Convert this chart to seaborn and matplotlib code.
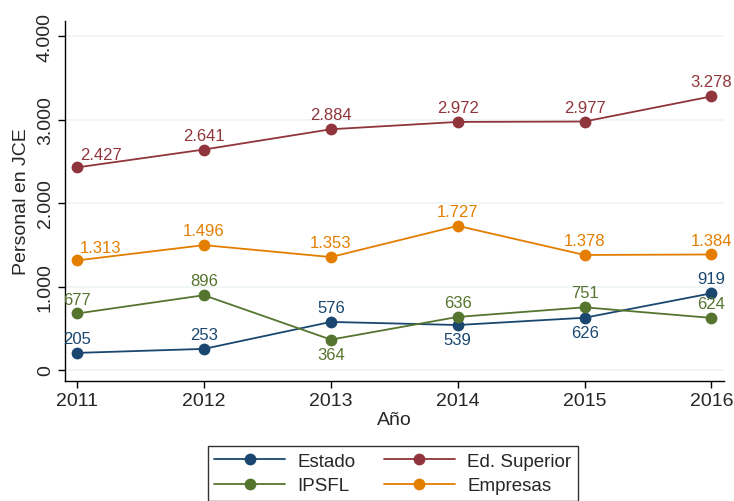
import pandas as pd
import matplotlib.pyplot as plt
import seaborn as sns
from matplotlib.lines import Line2D

years = [2011, 2012, 2013, 2014, 2015, 2016]
estado = [205, 253, 576, 539, 626, 919]
ed_superior = [2427, 2641, 2884, 2972, 2977, 3278]
ipsfl = [677, 896, 364, 636, 751, 624]
empresas = [1313, 1496, 1353, 1727, 1378, 1384]

series_names = ['Estado', 'Ed. Superior', 'IPSFL', 'Empresas']
colors = ['#1a476f', '#90353b', '#55752f', '#e37e00']

# posicion de etiquetas: 'a' arriba, 'b' abajo, 'ar' arriba-derecha
label_pos = {
    'Estado': ['a', 'a', 'a', 'b', 'b', 'a'],
    'Ed. Superior': ['ar', 'a', 'a', 'a', 'a', 'a'],
    'IPSFL': ['a', 'a', 'b', 'a', 'a', 'a'],
    'Empresas': ['ar', 'a', 'a', 'a', 'a', 'a'],
}

def fmt(v):
    return f"{v:,}".replace(',', '.')

rows = []
for name, vals in zip(series_names, [estado, ed_superior, ipsfl, empresas]):
    for y, v in zip(years, vals):
        rows.append({'Año': y, 'valor': v, 'serie': name})
df = pd.DataFrame(rows)

sns.set_style('white')
plt.rcParams['font.family'] = ['Liberation Sans', 'DejaVu Sans']

fig = plt.figure(figsize=(7.34, 5.02), dpi=100)
ax = fig.add_axes([0.0886, 0.239, 0.898, 0.717])

for y in [0, 1000, 2000, 3000, 4000]:
    ax.axhline(y, color='#eef4f6', lw=1.2, zorder=0)

palette = dict(zip(series_names, colors))
sns.lineplot(data=df, x='Año', y='valor', hue='serie', hue_order=series_names,
             palette=palette, marker='o', markersize=8.5, markeredgewidth=0,
             lw=1.3, legend=False, ax=ax)

for name in series_names:
    sub = df[df['serie'] == name]
    for (yr, v), pos in zip(sub[['Año', 'valor']].values, label_pos[name]):
        if pos == 'a':
            off, ha, va = (0, 5), 'center', 'bottom'
        elif pos == 'b':
            off, ha, va = (0, -5), 'center', 'top'
        else:
            off, ha, va = (2, 4), 'left', 'bottom'
        ax.annotate(fmt(int(v)), (yr, v), xytext=off, textcoords='offset points',
                    ha=ha, va=va, color=palette[name], fontsize=12)

ax.set_xlim(2010.905, 2016.10)
ax.set_ylim(-132, 4180)
ax.set_xticks(years)
ax.set_yticks([0, 1000, 2000, 3000, 4000])
ax.set_yticklabels([fmt(t) for t in [0, 1000, 2000, 3000, 4000]], rotation=90, va='center')
ax.tick_params(axis='both', length=5, width=1, color='black', labelsize=14, direction='out',
               left=True, bottom=True, pad=3)
ax.set_xlabel('Año', fontsize=14, labelpad=1)
ax.set_ylabel('Personal en JCE', fontsize=14, labelpad=5)

for s in ['top', 'right']:
    ax.spines[s].set_visible(False)
for s in ['left', 'bottom']:
    ax.spines[s].set_color('black')
    ax.spines[s].set_linewidth(1)

# matplotlib llena por columnas; reordenar para que las filas queden como en el original
order = [0, 2, 1, 3]
handles = [Line2D([0], [0], color=colors[i], marker='o', markersize=8.5, markeredgewidth=0, lw=1.3)
           for i in order]
leg = fig.legend(handles, [series_names[i] for i in order], ncol=2, loc='upper center',
                 bbox_to_anchor=(0.535, 0.128), frameon=True, fontsize=13.5,
                 handlelength=3.8, handletextpad=0.65, columnspacing=1.5, borderpad=0.35,
                 labelspacing=0.4, fancybox=False, edgecolor='black')
leg.get_frame().set_linewidth(1)

fig.savefig('out.png', dpi=100)
